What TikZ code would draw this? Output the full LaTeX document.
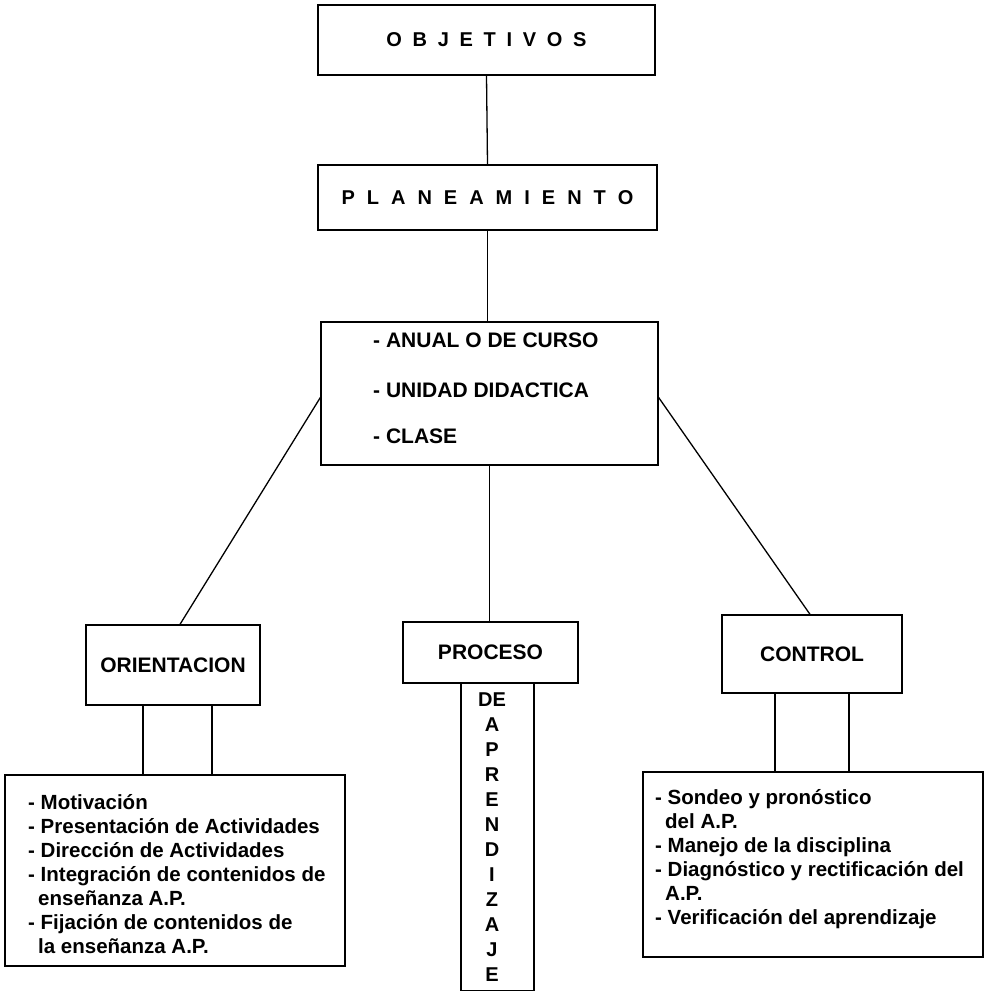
\documentclass[tikz,border=0pt]{standalone}
\usepackage{fontspec}
\setmainfont{Liberation Sans}
\begin{document}
\begin{tikzpicture}[x=1pt,y=-1pt,
  box/.style={draw, line width=1.3pt, inner sep=0pt},
  conn/.style={line width=1.3pt},
  txt/.style={inner sep=0pt, font=\fontsize{20}{24}\selectfont\bfseries},
  bigtxt/.style={inner sep=0pt, font=\fontsize{21}{24}\selectfont\bfseries},
  listtxt/.style={inner sep=0pt, align=left, font=\fontsize{20.5}{24}\selectfont\bfseries}]
\useasboundingbox (0,0) rectangle (990,993);

% top boxes
\node[box, txt, minimum width=337pt, minimum height=70pt] (obj) at (486.5,40)
  {O\hspace{10.7pt}B\hspace{10.7pt}J\hspace{10.7pt}E\hspace{10.7pt}T\hspace{10.7pt}I\hspace{10.7pt}V\hspace{10.7pt}O\hspace{10.7pt}S};
\node[box, txt, minimum width=339pt, minimum height=65pt] (plan) at (487.5,197.5)
  {P\hspace{12pt}L\hspace{12pt}A\hspace{12pt}N\hspace{12pt}E\hspace{12pt}A\hspace{12pt}M\hspace{12pt}I\hspace{12pt}E\hspace{12pt}N\hspace{12pt}T\hspace{12pt}O};

% central box
\node[box, minimum width=337pt, minimum height=143pt] (cen) at (489.5,393.5) {};
\node[bigtxt, anchor=west] (c1) at (373,340) {- ANUAL O DE CURSO};
\node[bigtxt, anchor=west] (c2) at (373,390) {- UNIDAD DIDACTICA};
\node[bigtxt, anchor=west] (c3) at (373,436) {- CLASE};

% second level
\node[box, bigtxt, minimum width=174pt, minimum height=80pt] (ori) at (173,665) {ORIENTACION};
\node[box, bigtxt, minimum width=175pt, minimum height=61pt] (proc) at (490.5,652.5) {PROCESO};
\node[box, bigtxt, minimum width=180pt, minimum height=78pt] (ctl) at (812,654) {CONTROL};

% strip
\node[box, minimum width=73pt, minimum height=307pt, anchor=north] (strip) at (497.5,683) {};
\node[inner sep=0pt, align=center, font=\fontsize{20}{25}\selectfont\bfseries] (apr) at (492,837.5)
  {DE\\A\\P\\R\\E\\N\\D\\I\\Z\\A\\J\\E};

% list boxes
\node[box, minimum width=340pt, minimum height=191pt] (olist) at (175,870.5) {};
\node[listtxt, anchor=north west] (otxt) at (28,792)
  {\strut- Motivación\\
   - Presentación de Actividades\\
   - Dirección de Actividades\\
   - Integración de contenidos de\\
   \hspace*{10pt}enseñanza A.P.\\
   - Fijación de contenidos de\\
   \hspace*{10pt}la enseñanza A.P.};

\node[box, minimum width=340pt, minimum height=185pt] (clist) at (813,864.5) {};
\node[listtxt, anchor=north west] (ctxt) at (655,787)
  {\strut- Sondeo y pronóstico\\
   \hspace*{10pt}del A.P.\\
   - Manejo de la disciplina\\
   - Diagnóstico y rectificación del\\
   \hspace*{10pt}A.P.\\
   - Verificación del aprendizaje};

% connectors
\draw[conn] (obj.south) -- (plan.north);
\draw[conn] (plan.south) -- (plan.south |- cen.north);
\draw[conn] ([yshift=-4pt]cen.west) -- ([xshift=7pt]ori.north);
\draw[conn] ([yshift=-4pt]cen.east) -- ([xshift=-2pt]ctl.north);
\draw[conn] (cen.south) -- (cen.south |- proc.north);
\draw[conn] ([xshift=-30pt]ori.south) -- ([xshift=-30pt]ori.south |- olist.north);
\draw[conn] ([xshift=39pt]ori.south) -- ([xshift=39pt]ori.south |- olist.north);
\draw[conn] ([xshift=-37pt]ctl.south) -- ([xshift=-37pt]ctl.south |- clist.north);
\draw[conn] ([xshift=37pt]ctl.south) -- ([xshift=37pt]ctl.south |- clist.north);
\end{tikzpicture}
\end{document}
